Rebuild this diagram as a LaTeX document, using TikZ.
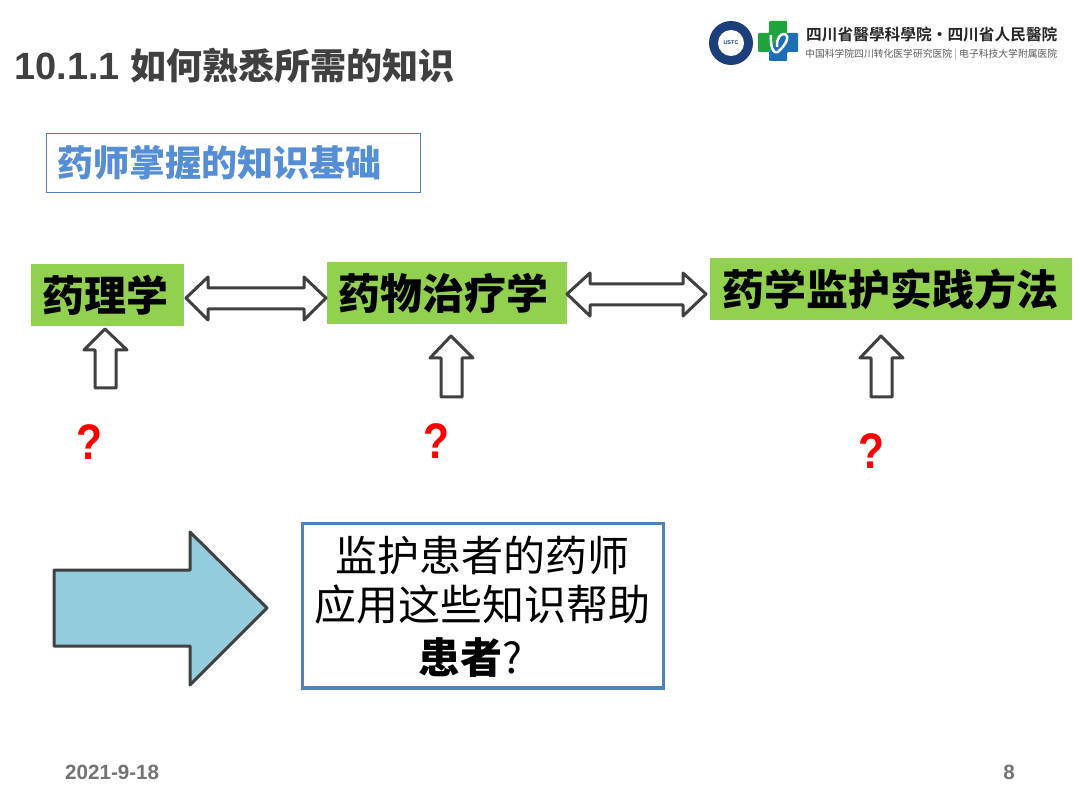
\documentclass[tikz,border=0pt]{standalone}
\usepackage{fontspec}
\setmainfont{Liberation Sans}
\newfontfamily\cjk{Noto Sans CJK SC}
\newfontfamily\cjkb{Noto Sans CJK SC Bold}
\newfontfamily\cjkh{Noto Sans CJK SC Black}
\definecolor{grn}{HTML}{92D050}
\definecolor{edge}{HTML}{404040}
\definecolor{bluet}{HTML}{558ED5}
\definecolor{boxb}{HTML}{4F81BD}
\definecolor{sky}{HTML}{93CDDD}
\definecolor{navy}{HTML}{1C3F7C}
\definecolor{hgreen}{HTML}{1FA33C}
\definecolor{hblue}{HTML}{1C6FB5}
\tikzset{
 greenbox/.style={fill=grn,inner sep=0pt,text=black,font=\cjkh\fontsize{42}{42}\selectfont},
 hollow/.style={draw=edge,line width=3pt,fill=white,line join=round},
 qmark/.style={text=red,font=\bfseries\fontsize{50}{50}\selectfont,inner sep=0pt,xscale=0.85},
}
\begin{document}
\begin{tikzpicture}[x=1pt,y=-1pt]
\useasboundingbox (0,0) rectangle (1080,810);
\fill[white] (0,0) rectangle (1080,810);
% title
\node[anchor=west,inner sep=0pt,text=edge] (title) at (14,66) {\bfseries\fontsize{38}{38}\selectfont 10.1.1 {\cjkb\fontsize{36}{36}\selectfont 如何熟悉所需的知识}};
% logos
\node[circle,fill=navy,minimum size=44pt,inner sep=0pt] (seal) at (731,43) {};
\node[circle,fill=white,minimum size=26pt,inner sep=0pt] (sealin) at (731,43) {};
\node[text=navy,inner sep=0pt,font=\bfseries\fontsize{5.5}{5.5}\selectfont] (ustc) at (731,43) {USTC};
\fill[hblue,rounded corners=1pt] (780,33) -- (798,33) -- (798,52) -- (787,52) -- (787,61) -- (769,61) -- (769,52) -- cycle;
\fill[hgreen,rounded corners=1pt] (769,21) -- (787,21) -- (787,33) -- (780,33) -- (769,52) -- (758,52) -- (758,33) -- (769,33) -- cycle;
\draw[white,line width=2.5pt,line join=round] (771,35) .. controls (770,50) and (775,56) .. (780,50) .. controls (786,44) and (790,36) .. (785,34) .. controls (780,33) and (776,40) .. (777,47);
\node[anchor=west,inner sep=0pt,text=black!85] (org1) at (806,35) {\cjkb\fontsize{15.7}{15.7}\selectfont 四川省醫學科學院·四川省人民醫院};
\node[anchor=west,inner sep=0pt,text=black!65] (org2) at (805,55) {\cjk\fontsize{9.8}{9.8}\selectfont 中国科学院四川转化医学研究医院\ \textcolor{black!40}{|}\ 电子科技大学附属医院};
% subtitle box
\node[draw=boxb,line width=0.8pt,anchor=north west,minimum width=374pt,minimum height=59pt,inner sep=0pt] (kb) at (46,133) {};
\node[anchor=west,inner sep=0pt,text=bluet,font=\cjkh\fontsize{36}{36}\selectfont] (kbt) at (57,163) {药师掌握的知识基础};
% green boxes
\node[greenbox,minimum width=153pt,minimum height=62pt] (a) at (107.5,295) {\raisebox{-2pt}{药理学}\hspace*{5pt}};
\node[greenbox,minimum width=240pt,minimum height=62pt] (b) at (447,293) {\raisebox{-2pt}{药物治疗学}\hspace*{7pt}};
\node[greenbox,minimum width=362pt,minimum height=62pt] (c) at (891,289) {\raisebox{-2pt}{药学监护实践方法}\hspace*{2pt}};
% double arrows
\draw[hollow] (186,298) -- (208,277) -- (208,288) -- (304,288) -- (304,277) -- (326,298) -- (304,320) -- (304,309) -- (208,309) -- (208,320) -- cycle;
\draw[hollow] (567,294) -- (590,273) -- (590,284) -- (683,284) -- (683,273) -- (706,294) -- (683,316) -- (683,305) -- (590,305) -- (590,316) -- cycle;
% up arrows
\draw[hollow] (105,329) -- (127,350) -- (116,350) -- (116,388) -- (95,388) -- (95,350) -- (84,350) -- cycle;
\draw[hollow] (451,336) -- (473,358) -- (462,358) -- (462,397) -- (441,397) -- (441,358) -- (430,358) -- cycle;
\draw[hollow] (881,336) -- (903,358) -- (892,358) -- (892,397) -- (871,397) -- (871,358) -- (860,358) -- cycle;
% question marks
\node[qmark] (q1) at (89,442) {?};
\node[qmark] (q2) at (436,441) {?};
\node[qmark] (q3) at (871,451) {?};
% big arrow
\draw[draw=edge,line width=3pt,fill=sky,line join=round] (54,570) -- (190,570) -- (190,532) -- (267,608) -- (190,685) -- (190,646) -- (54,646) -- cycle;
% answer box
\node[draw=boxb,line width=3.5pt,fill=white,anchor=north west,minimum width=361pt,minimum height=164.5pt,inner sep=0pt] (ans) at (300.5,521.5) {};
\node[inner sep=0pt,text=black,font=\cjk\fontsize{42}{42}\selectfont] (l1) at (482,555) {监护患者的药师};
\node[inner sep=0pt,text=black,font=\cjk\fontsize{42}{42}\selectfont] (l2) at (482,605) {应用这些知识帮助};
\node[anchor=west,inner sep=0pt,text=black,font=\cjk\fontsize{42}{42}\selectfont] (l3) at (418,658) {{\cjkh 患者}?};
% footer
\node[anchor=west,inner sep=0pt,text=black!55,font=\bfseries\fontsize{20.6}{20.6}\selectfont] (date) at (65,772) {2021-9-18};
\node[inner sep=0pt,text=black!55,font=\bfseries\fontsize{20.6}{20.6}\selectfont] (page) at (1009,772) {8};
\end{tikzpicture}
\end{document}
